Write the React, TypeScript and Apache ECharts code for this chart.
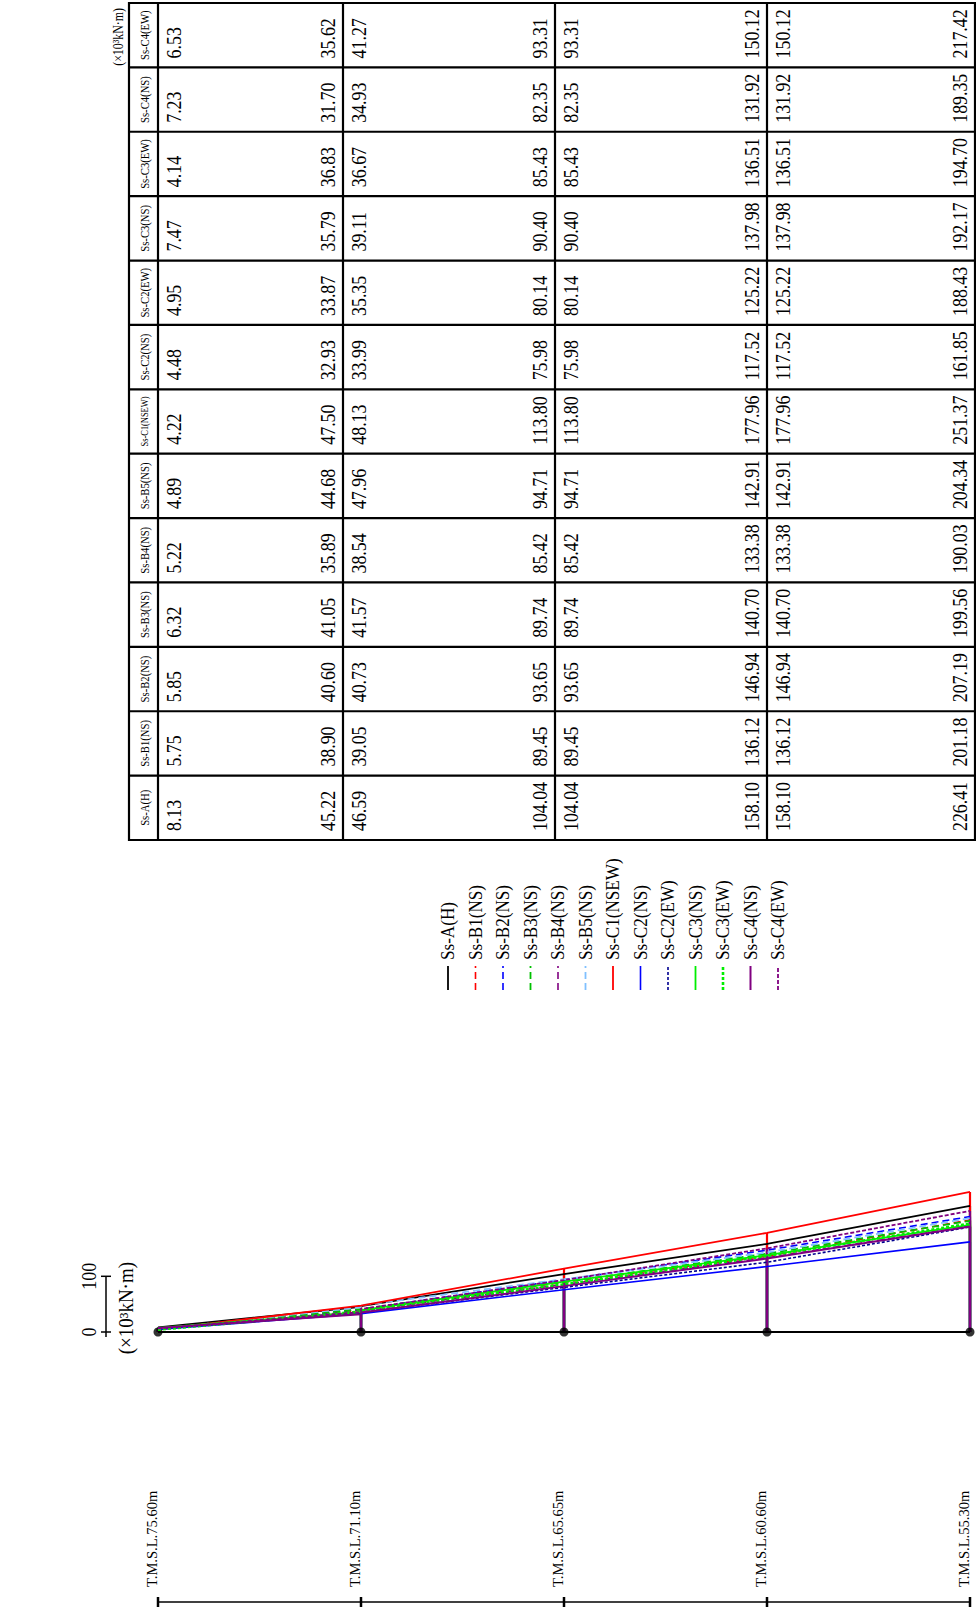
import React, { useEffect, useRef } from "react";
import * as echarts from "echarts";

// ---------- data ----------
const NAMES = [
  "Ss-A(H)", "Ss-B1(NS)", "Ss-B2(NS)", "Ss-B3(NS)", "Ss-B4(NS)", "Ss-B5(NS)",
  "Ss-C1(NSEW)", "Ss-C2(NS)", "Ss-C2(EW)", "Ss-C3(NS)", "Ss-C3(EW)", "Ss-C4(NS)", "Ss-C4(EW)",
];
const ELEVATIONS = ["T.M.S.L.75.60m", "T.M.S.L.71.10m", "T.M.S.L.65.65m", "T.M.S.L.60.60m", "T.M.S.L.55.30m"];
// bending moment (x10^3 kN·m), per member: [top, bottom] x 4 members
const SS_A_H = [8.13, 45.22, 46.59, 104.04, 104.04, 158.10, 158.10, 226.41];
const SS_B1_NS = [5.75, 38.90, 39.05, 89.45, 89.45, 136.12, 136.12, 201.18];
const SS_B2_NS = [5.85, 40.60, 40.73, 93.65, 93.65, 146.94, 146.94, 207.19];
const SS_B3_NS = [6.32, 41.05, 41.57, 89.74, 89.74, 140.70, 140.70, 199.56];
const SS_B4_NS = [5.22, 35.89, 38.54, 85.42, 85.42, 133.38, 133.38, 190.03];
const SS_B5_NS = [4.89, 44.68, 47.96, 94.71, 94.71, 142.91, 142.91, 204.34];
const SS_C1_NSEW = [4.22, 47.50, 48.13, 113.80, 113.80, 177.96, 177.96, 251.37];
const SS_C2_NS = [4.48, 32.93, 33.99, 75.98, 75.98, 117.52, 117.52, 161.85];
const SS_C2_EW = [4.95, 33.87, 35.35, 80.14, 80.14, 125.22, 125.22, 188.43];
const SS_C3_NS = [7.47, 35.79, 39.11, 90.40, 90.40, 137.98, 137.98, 192.17];
const SS_C3_EW = [4.14, 36.83, 36.67, 85.43, 85.43, 136.51, 136.51, 194.70];
const SS_C4_NS = [7.23, 31.70, 34.93, 82.35, 82.35, 131.92, 131.92, 189.35];
const SS_C4_EW = [6.53, 35.62, 41.27, 93.31, 93.31, 150.12, 150.12, 217.42];
const MOMENTS = [SS_A_H, SS_B1_NS, SS_B2_NS, SS_B3_NS, SS_B4_NS, SS_B5_NS, SS_C1_NSEW,
  SS_C2_NS, SS_C2_EW, SS_C3_NS, SS_C3_EW, SS_C4_NS, SS_C4_EW];
const SCALE_TICKS = [0, 100];
const UNIT = "(×10³kN·m)";

// ---------- styles ----------
const COLORS = ["#000000", "#ff0000", "#0000ff", "#00c000", "#800080", "#80c0ff", "#ff0000",
  "#0000ff", "#000090", "#00ee00", "#00ee00", "#800080", "#800080"];
const DASHES: any[] = ["solid", [7, 4], [7, 4], [7, 4], [7, 4], [7, 4], "solid", "solid",
  [3, 2], "solid", [3, 2], "solid", [4, 2]];
const WIDTHS = [1.8, 1.6, 1.6, 1.8, 1.6, 1.8, 1.8, 1.6, 1.6, 1.8, 2.6, 2, 1.8];

const FONT = "Liberation Serif";
const ROT = Math.PI / 2;

// layout
const NODE_LEFT = 158;
const NODE_RIGHT = 970;
const BASE_Y = 1332;
const Y_MAX = 300;
const PX_PER_UNIT = 0.557;
const T_LEFT = 129;
const T_BORDERS = [158, 343, 555, 767, 975];
const T_TOP = 3;
const T_BOTTOM = 840;

function rtext(x: number, y: number, text: string, size: number, align: string, valign: string, sx = 0.8) {
  return {
    type: "text", x, y, rotation: ROT, scaleX: sx, scaleY: 1, silent: true,
    style: { text, fontSize: size, fontFamily: FONT, fill: "#000", textAlign: align, textVerticalAlign: valign },
  };
}
function gline(x1: number, y1: number, x2: number, y2: number, w = 2, color = "#000", dash: any = null) {
  const style: any = { stroke: color, lineWidth: w };
  if (dash && dash !== "solid") style.lineDash = dash;
  return { type: "line", silent: true, shape: { x1, y1, x2, y2 }, style };
}

export default function App() {
  const ref = useRef<HTMLDivElement>(null);
  useEffect(() => {
    if (!ref.current) return;
    const chart = echarts.init(ref.current, null, { renderer: "svg" });
    const series: any[] = [];
    MOMENTS.forEach((m, i) => {
      const pts: number[][] = [];
      for (let e = 0; e < 4; e++) {
        pts.push([e, m[2 * e]], [e + 1, m[2 * e + 1]]);
      }
      series.push({
        type: "line", name: NAMES[i], data: pts, symbol: "none", silent: true,
        lineStyle: { color: COLORS[i], width: WIDTHS[i], type: DASHES[i] },
      });
      const verts: any[] = [];
      for (let n = 0; n <= 4; n++) {
        const v = n === 0 ? m[0] : n < 4 ? Math.max(m[2 * n - 1], m[2 * n]) : m[7];
        verts.push({ coords: [[n, 0], [n, v]] });
      }
      series.push({
        type: "lines", coordinateSystem: "cartesian2d", data: verts, silent: true,
        lineStyle: { color: COLORS[i], width: 2.2, type: "solid", opacity: 1 },
      });
    });
    series.push({
      type: "line", data: [[0, 0], [4, 0]], symbol: "none", silent: true,
      lineStyle: { color: "#000", width: 2 },
    });
    series.push({
      type: "scatter", data: [[0, 0], [1, 0], [2, 0], [3, 0], [4, 0]], symbol: "circle",
      symbolSize: 9, itemStyle: { color: "#000" }, silent: true,
    });

    const gridTop = BASE_Y - Y_MAX * PX_PER_UNIT;
    chart.setOption({
      animation: false,
      backgroundColor: "#ffffff",
      grid: { left: NODE_LEFT, right: 976 - NODE_RIGHT, top: gridTop, bottom: 1610 - BASE_Y, containLabel: false },
      xAxis: { type: "value", min: 0, max: 4, show: false },
      yAxis: { type: "value", min: 0, max: Y_MAX, show: false },
      series,
    });

    const g: any[] = [];
    // ---- table ----
    const bandH = (T_BOTTOM - T_TOP) / NAMES.length;
    g.push({ type: "rect", silent: true, shape: { x: T_LEFT, y: T_TOP, width: T_BORDERS[4] - T_LEFT, height: T_BOTTOM - T_TOP },
      style: { fill: "none", stroke: "#000", lineWidth: 2.2 } });
    for (let k = 0; k < 4; k++) g.push(gline(T_BORDERS[k], T_TOP, T_BORDERS[k], T_BOTTOM, 2.2));
    for (let k = 1; k < NAMES.length; k++) g.push(gline(T_LEFT, T_TOP + k * bandH, T_BORDERS[4], T_TOP + k * bandH, 2.2));
    NAMES.forEach((name, i) => {
      const bb = T_BOTTOM - i * bandH;
      const bc = bb - bandH / 2;
      const long = name.length > 9;
      g.push(rtext((T_LEFT + T_BORDERS[0]) / 2 + 1, bc, name, long ? 10.5 : 13, "center", "middle", long ? 0.8 : 0.82));
      const m = MOMENTS[i];
      for (let e = 0; e < 4; e++) {
        g.push(rtext(T_BORDERS[e] + 16, bb - 9, m[2 * e].toFixed(2), 21, "left", "middle", 0.85));
        g.push(rtext(T_BORDERS[e + 1] - 15, bb - 9, m[2 * e + 1].toFixed(2), 21, "left", "middle", 0.85));
      }
    });
    g.push(rtext(118, T_TOP + 5, UNIT, 14, "right", "middle", 0.85));

    // ---- elevation axis ----
    const nodeX = (k: number) => (chart.convertToPixel({ gridIndex: 0 }, [k, 0]) as number[])[0];
    g.push(gline(nodeX(0), 1602, nodeX(4), 1602, 1.6));
    ELEVATIONS.forEach((lab, k) => {
      const x = nodeX(k);
      g.push(gline(x, 1597, x, 1607, 2.5));
      g.push(rtext(x - 6, 1587, lab, 15, "left", "middle", 0.97));
    });

    // ---- legend ----
    NAMES.forEach((name, i) => {
      const x = 448 + 27.5 * i;
      g.push(gline(x, 990, x, 966, WIDTHS[i], COLORS[i], DASHES[i]));
      g.push(rtext(x, 960, name, 19, "left", "middle", 0.9));
    });

    // ---- scale bar ----
    const sy = SCALE_TICKS.map((v) => (chart.convertToPixel({ gridIndex: 0 }, [0, v]) as number[])[1]);
    const bx = 106;
    g.push(gline(bx, sy[0] + 5, bx, sy[1], 1.5));
    g.push(gline(bx - 5, sy[0], bx + 5, sy[0], 1.5));
    g.push(gline(bx - 5, sy[1], bx + 5, sy[1], 1.5));
    SCALE_TICKS.forEach((v, k) => g.push(rtext(bx - 17, sy[k], String(v), 20, "center", "middle", 0.9)));
    g.push(rtext(bx + 20, (sy[0] + sy[1]) / 2 + 4, UNIT, 20, "center", "middle", 0.95));

    chart.setOption({ graphic: { elements: g } });
    return () => chart.dispose();
  }, []);
  return <div ref={ref} style={{ position: "absolute", left: 0, top: 0, width: 976, height: 1610, background: "#fff" }} />;
}
